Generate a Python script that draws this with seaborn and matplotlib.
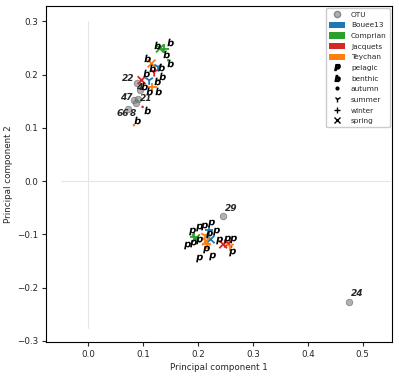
import matplotlib
matplotlib.use('Agg')
import matplotlib.pyplot as plt
import seaborn as sns
import pandas as pd
from matplotlib.font_manager import FontProperties
from matplotlib.textpath import TextPath
from matplotlib.path import Path
from matplotlib.lines import Line2D
from matplotlib.patches import Patch

# samples: site / season markers
sample_x = [0.1306, 0.1390, 0.1457, 0.1155, 0.1166, 0.1275, 0.0832, 0.1275, 0.1111, 0.1202, 0.0973, 0.0991,
            0.2199, 0.2230, 0.1931, 0.1962, 0.2144, 0.2126, 0.2459, 0.2550, 0.2581, 0.2162]
sample_y = [0.2492, 0.2492, 0.2272, 0.2211, 0.1771, 0.1897, 0.1051, 0.2147, 0.1897, 0.2053, 0.1897, 0.1395,
            -0.0923, -0.1092, -0.1049, -0.1073, -0.1130, -0.1023, -0.1186, -0.1173, -0.1224, -0.1186]
sample_site = ['Comprian', 'Comprian', 'Comprian', 'Teychan', 'Teychan', 'Teychan', 'Teychan', 'Bouee13',
               'Bouee13', 'Jacquets', 'Jacquets', 'Jacquets',
               'Bouee13', 'Bouee13', 'Comprian', 'Comprian', 'Teychan', 'Teychan', 'Jacquets', 'Jacquets',
               'Teychan', 'Teychan']
sample_season = ['spring', 'winter', 'autumn', 'spring', 'winter', 'autumn', 'autumn', 'summer',
                 'summer', 'summer', 'spring', 'autumn',
                 'winter', 'spring', 'winter', 'spring', 'spring', 'summer', 'spring', 'spring',
                 'summer', 'winter']

# sample type glyphs
benthic_x = [0.1246, 0.1488, 0.1414, 0.1488, 0.1075, 0.1166, 0.1324, 0.1051, 0.1337, 0.1246, 0.1015,
             0.1111, 0.1275, 0.1064, 0.0893]
benthic_y = [0.2555, 0.2605, 0.2398, 0.2229, 0.2305, 0.2128, 0.2147, 0.2023, 0.1977, 0.1883, 0.1784,
             0.1690, 0.1690, 0.1333, 0.1158]
pelagic_x = [0.1883, 0.2016, 0.2107, 0.2230, 0.2321, 0.2204, 0.1803, 0.1902, 0.2022, 0.2144, 0.2016,
             0.2248, 0.2386, 0.2521, 0.2630, 0.2612]
pelagic_y = [-0.0942, -0.0861, -0.0848, -0.0778, -0.0936, -0.0998, -0.1205, -0.1162, -0.1111, -0.1280,
             -0.1436, -0.1412, -0.1098, -0.1079, -0.1079, -0.1331]

# OTUs
otu_label = ['22', '4', '47', '21', '66', '8', '29', '24']
otu_x = [0.0887, 0.0942, 0.0832, 0.0905, 0.0723, 0.0869, 0.2457, 0.4749]
otu_y = [0.1840, 0.1708, 0.1521, 0.1539, 0.1352, 0.1464, -0.0660, -0.2271]
otu_text_x = [0.0614, 0.0872, 0.0577, 0.0942, 0.0520, 0.0760, 0.2490, 0.4780]
otu_text_y = [0.1840, 0.1670, 0.1483, 0.1462, 0.1182, 0.1182, -0.0600, -0.2188]

sites = ['Bouee13', 'Comprian', 'Jacquets', 'Teychan']
site_colors = {'Bouee13': '#1f77b4', 'Comprian': '#2ca02c', 'Jacquets': '#d62728', 'Teychan': '#ff7f0e'}
season_markers = {'autumn': 'o', 'summer': '1', 'winter': '+', 'spring': 'x'}
season_sizes = {'autumn': 10, 'summer': 45, 'winter': 40, 'spring': 32}


def glyph(ch):
    tp = TextPath((0, 0), ch, size=1, prop=FontProperties(family='DejaVu Sans', weight='bold', style='oblique'))
    v = tp.vertices.copy()
    cx = (v[:, 0].min() + v[:, 0].max()) / 2
    cy = (v[:, 1].min() + v[:, 1].max()) / 2
    v[:, 0] -= cx
    v[:, 1] -= cy
    return Path(v, tp.codes)


p_mark = glyph('p')
b_mark = glyph('b')

sns.set_style('ticks')
plt.rcParams['font.family'] = ['DejaVu Sans']

fig, ax = plt.subplots(figsize=(3.99, 3.77), dpi=100)
fig.subplots_adjust(left=0.115, right=0.982, top=0.984, bottom=0.093)

ax.plot([0, 0], [-0.275, 0.3], color='#e6e6e6', lw=0.8, zorder=0)
ax.plot([-0.05, 0.55], [0, 0], color='#e6e6e6', lw=0.8, zorder=0)

samples = pd.DataFrame({'x': sample_x, 'y': sample_y, 'site': sample_site, 'season': sample_season})

sns.scatterplot(x=otu_x, y=otu_y, color='gray', edgecolor='#555555', alpha=0.6, s=22, linewidth=0.6,
                ax=ax, zorder=2, legend=False)

for season, grp in samples.groupby('season'):
    sns.scatterplot(data=grp, x='x', y='y', hue='site', palette=site_colors, marker=season_markers[season],
                    s=season_sizes[season], linewidth=1.3, ax=ax, zorder=3, legend=False)

sns.scatterplot(x=benthic_x, y=benthic_y, marker=b_mark, color='black', s=30, linewidth=0, ax=ax,
                zorder=4, legend=False)
sns.scatterplot(x=pelagic_x, y=pelagic_y, marker=p_mark, color='black', s=30, linewidth=0, ax=ax,
                zorder=4, legend=False)

for lab, tx, ty in zip(otu_label, otu_text_x, otu_text_y):
    ax.text(tx, ty, lab, fontsize=6.5, fontweight='bold', style='italic', ha='left', va='bottom', zorder=5)

ax.set_xlim(-0.077, 0.553)
ax.set_ylim(-0.302, 0.329)
ax.set_xticks([0.0, 0.1, 0.2, 0.3, 0.4, 0.5])
ax.set_yticks([-0.3, -0.2, -0.1, 0.0, 0.1, 0.2, 0.3])
ax.tick_params(labelsize=6.3, length=3, width=0.8, pad=2.5)
ax.set_xlabel('Principal component 1', fontsize=6.3, labelpad=3)
ax.set_ylabel('Principal component 2', fontsize=6.3, labelpad=3)
for sp in ax.spines.values():
    sp.set_color('black')
    sp.set_linewidth(0.8)

handles = [Line2D([], [], marker='o', ls='', color='gray', markeredgecolor='#555555', alpha=0.6,
                  markersize=4.5, label='OTU')]
handles += [Patch(facecolor=site_colors[s], edgecolor='none', label=s) for s in sites]
handles += [Line2D([], [], marker=p_mark, ls='', color='black', markersize=4.3, label='pelagic'),
            Line2D([], [], marker=b_mark, ls='', color='black', markersize=4.3, label='benthic')]
handles += [Line2D([], [], marker='.', ls='', color='black', markersize=4, label='autumn'),
            Line2D([], [], marker='1', ls='', color='black', markersize=4.5, label='summer'),
            Line2D([], [], marker='+', ls='', color='black', markersize=4.5, label='winter'),
            Line2D([], [], marker='x', ls='', color='black', markersize=4.5, label='spring')]
ax.legend(handles=handles, loc='upper right', fontsize=5.3, labelspacing=0.55, borderaxespad=0.3,
          handlelength=2.2, handleheight=0.9, framealpha=1.0, edgecolor='#cccccc')

fig.savefig('out.png', dpi=100)
